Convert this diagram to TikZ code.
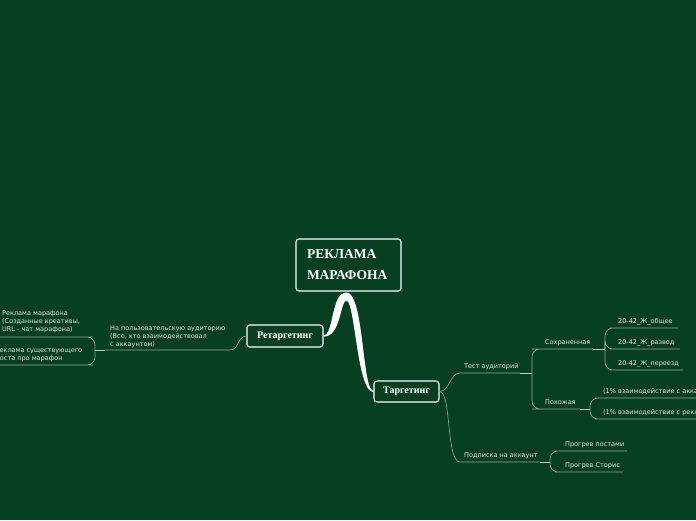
\documentclass[tikz,border=0pt]{standalone}
\usepackage{fontspec}
\setmainfont{Liberation Serif}
\setsansfont{DejaVu Sans}
\usetikzlibrary{calc}
\definecolor{fond}{HTML}{063F21}
\definecolor{texte}{HTML}{DDE5DD}
\definecolor{trait}{HTML}{93A996}
\definecolor{bouton}{HTML}{C3D1C4}

\tikzset{
  boite/.style={draw=white, line width=1.1pt, rounded corners=3pt, fill=fond, text=white, inner sep=0pt},
  sujet/.style={text=texte, font=\sffamily\fontsize{6.5}{8}\selectfont, inner sep=0pt},
  lien/.style={draw=trait, line width=0.6pt},
  bout/.style={draw=bouton, line width=0.9pt},
}

\begin{document}
\begin{tikzpicture}[x=1pt, y=-1pt]
  \useasboundingbox (0,0) rectangle (696,520);
  \fill[fond] (0,0) rectangle (696,520);
  \clip (0,0) rectangle (696,520);

  \node[boite, text width=83pt, inner xsep=11pt, minimum height=52pt, align=left,
        font=\bfseries\fontsize{13.5}{21}\selectfont] (titre) at (348.5,265) {РЕКЛАМА\\МАРАФОНА};
  \node[boite, minimum width=76pt, minimum height=22pt, font=\bfseries\fontsize{10}{12}\selectfont] (retarg) at (285,336) {Ретаргетинг};
  \node[boite, minimum width=65pt, minimum height=21pt, font=\bfseries\fontsize{10}{12}\selectfont] (targ) at (406.5,391.5) {Таргетинг};

  \fill[white] ($(retarg.east)+(0,-0.6)$) .. controls (334,335) and (331,292) .. ($(titre.south)+(-2,1)$)
    .. controls (364,292) and (362,391) .. ($(targ.west)+(0,-0.6)$) -- ($(targ.west)+(0,0.6)$)
    .. controls (357,392) and (355,301) .. ($(titre.south)+(-2,9)$)
    .. controls (340,301) and (341,337) .. ($(retarg.east)+(0,0.6)$) -- cycle;

  % retargeting
  \node[sujet, anchor=north west, align=left] (audit) at (110,325.6) {На пользовательскую аудиторию\\(Все, кто взаимодействовал\\с аккаунтом)};
  \coordinate (audit-d) at (230,350);
  \coordinate (audit-g) at (105,350);
  \coordinate (audit-b) at (95,350);
  \draw[lien] (retarg.west) .. controls +(-9,0) and +(9,0) .. (audit-d) -- (audit-g);
  \draw[bout] (audit-g) -- (audit-b);

  \node[sujet, anchor=north west, align=left] (crea) at (2,310.6) {Реклама марафона\\(Созданные креативы,\\URL - чат марафона)};
  \node[sujet, anchor=north west, align=left] (poste) at (-4.5,347.6) {Реклама существующего\\поста про марафон};
  \foreach \nom/\y in {crea/337, poste/365} {
    \coordinate (\nom-d) at (85,\y);
    \coordinate (\nom-g) at (-10,\y);
    \draw[lien, rounded corners=8pt] (audit-b) |- (\nom-d) -- (\nom-g);
  }

  % targeting
  \node[sujet, anchor=base west] (test) at (464,368.5) {Тест аудиторий};
  \coordinate (test-g) at (460,373);
  \coordinate (test-d) at (520,373);
  \coordinate (test-b) at (532,373);
  \draw[lien] (targ.east) .. controls +(10,0) and +(-10,0) .. (test-g) -- (test-d);
  \draw[bout] (test-d) -- (test-b);

  \node[sujet, anchor=base west] (abonne) at (464,457.5) {Подписка на аккаунт};
  \coordinate (abonne-g) at (460,462);
  \coordinate (abonne-d) at (540,462);
  \coordinate (abonne-b) at (550,462);
  \draw[lien] (targ.east) .. controls +(12,0) and +(-14,0) .. (abonne-g) -- (abonne-d);
  \draw[bout] (abonne-d) -- (abonne-b);

  \node[sujet, anchor=base west] (sauve) at (545,344.5) {Сохраненная};
  \coordinate (sauve-g) at (540,349);
  \coordinate (sauve-d) at (593,349);
  \coordinate (sauve-b) at (605,349);
  \node[sujet, anchor=base west] (proche) at (545,404.5) {Похожая};
  \coordinate (proche-g) at (540,409);
  \coordinate (proche-d) at (580,409);
  \coordinate (proche-b) at (590,409);
  \foreach \nom in {sauve, proche} {
    \draw[lien, rounded corners=8pt] (test-b) |- (\nom-g) -- (\nom-d);
    \draw[bout] (\nom-d) -- (\nom-b);
  }

  \foreach \nom/\x/\y/\fin/\lab in {commun/618/328/678/20-42\_Ж\_общее,
      divorce/618/349/680/20-42\_Ж\_развод, demenag/618/370/683/20-42\_Ж\_переезд} {
    \node[sujet, anchor=base west] (\nom) at (\x,\y-4.5) {\lab};
    \coordinate (\nom-g) at (\x,\y);
    \coordinate (\nom-d) at (\fin,\y);
    \draw[lien, rounded corners=8pt] (sauve-b) |- (\nom-g) -- (\nom-d);
  }

  \foreach \nom/\y/\lab in {compte/398/(1\% взаимодействие с аккаунтом),
      pub/419/(1\% взаимодействие с рекламой)} {
    \node[sujet, anchor=base west] (\nom) at (603,\y-4.5) {\lab};
    \coordinate (\nom-g) at (603,\y);
    \coordinate (\nom-d) at (710,\y);
    \draw[lien, rounded corners=8pt] (proche-b) |- (\nom-g) -- (\nom-d);
  }

  \foreach \nom/\y/\fin/\lab in {postes/451/627/Прогрев постами, stories/472/623/Прогрев Сторис} {
    \node[sujet, anchor=base west] (\nom) at (565,\y-4.5) {\lab};
    \coordinate (\nom-g) at (563,\y);
    \coordinate (\nom-d) at (\fin,\y);
    \draw[lien, rounded corners=8pt] (abonne-b) |- (\nom-g) -- (\nom-d);
  }
\end{tikzpicture}
\end{document}
